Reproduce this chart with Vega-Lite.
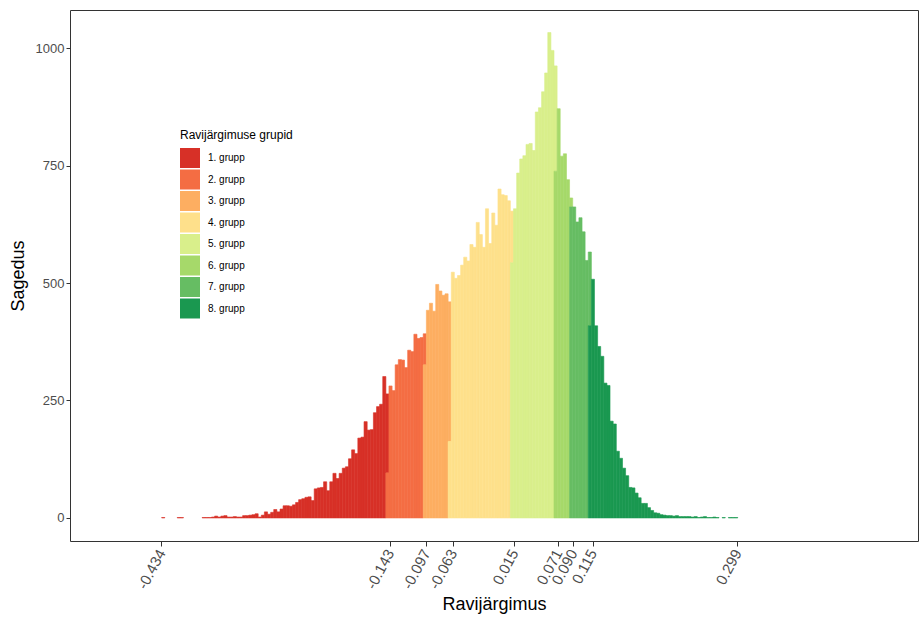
{
  "$schema": "https://vega.github.io/schema/vega-lite/v6.json",
  "width": 848,
  "height": 531,
  "autosize": {"type": "none"},
  "padding": {"left": 70, "top": 10, "right": 1, "bottom": 76},
  "background": "white",
  "config": {
    "font": "Liberation Sans",
    "view": {"stroke": "#333333", "strokeWidth": 1},
    "axis": {"grid": false, "domain": false, "tickColor": "#333333", "tickSize": 4, "labelColor": "#4D4D4D", "labelFontSize": 13, "titleFontSize": 18, "titleFontWeight": "normal", "titleColor": "#000000"},
    "legend": {"orient": "none", "legendX": 110, "legendY": 120, "symbolType": "square", "symbolSize": 400, "symbolStrokeWidth": 0, "symbolOpacity": 1, "labelFontSize": 10, "labelColor": "#000000", "titleFontSize": 12, "titleFontWeight": "normal", "titleColor": "#000000", "titlePadding": 6, "rowPadding": 1.5, "labelOffset": 8, "padding": 0}
  },
  "data": {"values": [
    {"lo":-0.434,"hi":-0.43,"n":1,"g":"1. grupp"},
    {"lo":-0.4142,"hi":-0.4102,"n":1,"g":"1. grupp"},
    {"lo":-0.4102,"hi":-0.4063,"n":1,"g":"1. grupp"},
    {"lo":-0.3825,"hi":-0.3785,"n":1,"g":"1. grupp"},
    {"lo":-0.3785,"hi":-0.3746,"n":1,"g":"1. grupp"},
    {"lo":-0.3746,"hi":-0.3706,"n":1,"g":"1. grupp"},
    {"lo":-0.3706,"hi":-0.3666,"n":2,"g":"1. grupp"},
    {"lo":-0.3666,"hi":-0.3627,"n":4,"g":"1. grupp"},
    {"lo":-0.3627,"hi":-0.3587,"n":2,"g":"1. grupp"},
    {"lo":-0.3587,"hi":-0.3548,"n":4,"g":"1. grupp"},
    {"lo":-0.3548,"hi":-0.3508,"n":5,"g":"1. grupp"},
    {"lo":-0.3508,"hi":-0.3468,"n":2,"g":"1. grupp"},
    {"lo":-0.3468,"hi":-0.3429,"n":2,"g":"1. grupp"},
    {"lo":-0.3429,"hi":-0.3389,"n":3,"g":"1. grupp"},
    {"lo":-0.3389,"hi":-0.335,"n":2,"g":"1. grupp"},
    {"lo":-0.335,"hi":-0.331,"n":2,"g":"1. grupp"},
    {"lo":-0.331,"hi":-0.327,"n":5,"g":"1. grupp"},
    {"lo":-0.327,"hi":-0.3231,"n":5,"g":"1. grupp"},
    {"lo":-0.3231,"hi":-0.3191,"n":6,"g":"1. grupp"},
    {"lo":-0.3191,"hi":-0.3151,"n":7,"g":"1. grupp"},
    {"lo":-0.3151,"hi":-0.3112,"n":9,"g":"1. grupp"},
    {"lo":-0.3112,"hi":-0.3072,"n":2,"g":"1. grupp"},
    {"lo":-0.3072,"hi":-0.3033,"n":6,"g":"1. grupp"},
    {"lo":-0.3033,"hi":-0.2993,"n":13,"g":"1. grupp"},
    {"lo":-0.2993,"hi":-0.2953,"n":8,"g":"1. grupp"},
    {"lo":-0.2953,"hi":-0.2914,"n":12,"g":"1. grupp"},
    {"lo":-0.2914,"hi":-0.2874,"n":18,"g":"1. grupp"},
    {"lo":-0.2874,"hi":-0.2834,"n":13,"g":"1. grupp"},
    {"lo":-0.2834,"hi":-0.2795,"n":19,"g":"1. grupp"},
    {"lo":-0.2795,"hi":-0.2755,"n":26,"g":"1. grupp"},
    {"lo":-0.2755,"hi":-0.2716,"n":26,"g":"1. grupp"},
    {"lo":-0.2716,"hi":-0.2676,"n":25,"g":"1. grupp"},
    {"lo":-0.2676,"hi":-0.2636,"n":28,"g":"1. grupp"},
    {"lo":-0.2636,"hi":-0.2597,"n":33,"g":"1. grupp"},
    {"lo":-0.2597,"hi":-0.2557,"n":39,"g":"1. grupp"},
    {"lo":-0.2557,"hi":-0.2517,"n":41,"g":"1. grupp"},
    {"lo":-0.2517,"hi":-0.2478,"n":44,"g":"1. grupp"},
    {"lo":-0.2478,"hi":-0.2438,"n":45,"g":"1. grupp"},
    {"lo":-0.2438,"hi":-0.2399,"n":37,"g":"1. grupp"},
    {"lo":-0.2399,"hi":-0.2359,"n":62,"g":"1. grupp"},
    {"lo":-0.2359,"hi":-0.2319,"n":64,"g":"1. grupp"},
    {"lo":-0.2319,"hi":-0.228,"n":65,"g":"1. grupp"},
    {"lo":-0.228,"hi":-0.224,"n":77,"g":"1. grupp"},
    {"lo":-0.224,"hi":-0.2201,"n":58,"g":"1. grupp"},
    {"lo":-0.2201,"hi":-0.2161,"n":77,"g":"1. grupp"},
    {"lo":-0.2161,"hi":-0.2121,"n":95,"g":"1. grupp"},
    {"lo":-0.2121,"hi":-0.2082,"n":84,"g":"1. grupp"},
    {"lo":-0.2082,"hi":-0.2042,"n":95,"g":"1. grupp"},
    {"lo":-0.2042,"hi":-0.2002,"n":106,"g":"1. grupp"},
    {"lo":-0.2002,"hi":-0.1963,"n":109,"g":"1. grupp"},
    {"lo":-0.1963,"hi":-0.1923,"n":126,"g":"1. grupp"},
    {"lo":-0.1923,"hi":-0.1884,"n":145,"g":"1. grupp"},
    {"lo":-0.1884,"hi":-0.1844,"n":137,"g":"1. grupp"},
    {"lo":-0.1844,"hi":-0.1804,"n":170,"g":"1. grupp"},
    {"lo":-0.1804,"hi":-0.1765,"n":172,"g":"1. grupp"},
    {"lo":-0.1765,"hi":-0.1725,"n":205,"g":"1. grupp"},
    {"lo":-0.1725,"hi":-0.1685,"n":187,"g":"1. grupp"},
    {"lo":-0.1685,"hi":-0.1646,"n":188,"g":"1. grupp"},
    {"lo":-0.1646,"hi":-0.1606,"n":224,"g":"1. grupp"},
    {"lo":-0.1606,"hi":-0.1567,"n":237,"g":"1. grupp"},
    {"lo":-0.1567,"hi":-0.1527,"n":242,"g":"1. grupp"},
    {"lo":-0.1527,"hi":-0.1487,"n":301,"g":"1. grupp"},
    {"lo":-0.1487,"hi":-0.1448,"n":168,"g":"1. grupp"},
    {"lo":-0.1487,"hi":-0.1448,"n":96,"g":"2. grupp"},
    {"lo":-0.1448,"hi":-0.1408,"n":281,"g":"2. grupp"},
    {"lo":-0.1408,"hi":-0.1369,"n":271,"g":"2. grupp"},
    {"lo":-0.1369,"hi":-0.1329,"n":326,"g":"2. grupp"},
    {"lo":-0.1329,"hi":-0.1289,"n":337,"g":"2. grupp"},
    {"lo":-0.1289,"hi":-0.125,"n":336,"g":"2. grupp"},
    {"lo":-0.125,"hi":-0.121,"n":320,"g":"2. grupp"},
    {"lo":-0.121,"hi":-0.117,"n":357,"g":"2. grupp"},
    {"lo":-0.117,"hi":-0.1131,"n":354,"g":"2. grupp"},
    {"lo":-0.1131,"hi":-0.1091,"n":391,"g":"2. grupp"},
    {"lo":-0.1091,"hi":-0.1052,"n":382,"g":"2. grupp"},
    {"lo":-0.1052,"hi":-0.1012,"n":384,"g":"2. grupp"},
    {"lo":-0.1012,"hi":-0.0972,"n":66,"g":"2. grupp"},
    {"lo":-0.1012,"hi":-0.0972,"n":326,"g":"3. grupp"},
    {"lo":-0.0972,"hi":-0.0933,"n":442,"g":"3. grupp"},
    {"lo":-0.0933,"hi":-0.0893,"n":457,"g":"3. grupp"},
    {"lo":-0.0893,"hi":-0.0853,"n":440,"g":"3. grupp"},
    {"lo":-0.0853,"hi":-0.0814,"n":497,"g":"3. grupp"},
    {"lo":-0.0814,"hi":-0.0774,"n":483,"g":"3. grupp"},
    {"lo":-0.0774,"hi":-0.0735,"n":474,"g":"3. grupp"},
    {"lo":-0.0735,"hi":-0.0695,"n":477,"g":"3. grupp"},
    {"lo":-0.0695,"hi":-0.0655,"n":297,"g":"3. grupp"},
    {"lo":-0.0695,"hi":-0.0655,"n":163,"g":"4. grupp"},
    {"lo":-0.0655,"hi":-0.0616,"n":523,"g":"4. grupp"},
    {"lo":-0.0616,"hi":-0.0576,"n":510,"g":"4. grupp"},
    {"lo":-0.0576,"hi":-0.0536,"n":516,"g":"4. grupp"},
    {"lo":-0.0536,"hi":-0.0497,"n":538,"g":"4. grupp"},
    {"lo":-0.0497,"hi":-0.0457,"n":555,"g":"4. grupp"},
    {"lo":-0.0457,"hi":-0.0418,"n":547,"g":"4. grupp"},
    {"lo":-0.0418,"hi":-0.0378,"n":582,"g":"4. grupp"},
    {"lo":-0.0378,"hi":-0.0338,"n":576,"g":"4. grupp"},
    {"lo":-0.0338,"hi":-0.0299,"n":629,"g":"4. grupp"},
    {"lo":-0.0299,"hi":-0.0259,"n":603,"g":"4. grupp"},
    {"lo":-0.0259,"hi":-0.022,"n":576,"g":"4. grupp"},
    {"lo":-0.022,"hi":-0.018,"n":658,"g":"4. grupp"},
    {"lo":-0.018,"hi":-0.014,"n":584,"g":"4. grupp"},
    {"lo":-0.014,"hi":-0.0101,"n":649,"g":"4. grupp"},
    {"lo":-0.0101,"hi":-0.0061,"n":623,"g":"4. grupp"},
    {"lo":-0.0061,"hi":-0.0021,"n":700,"g":"4. grupp"},
    {"lo":-0.0021,"hi":0.0018,"n":688,"g":"4. grupp"},
    {"lo":0.0018,"hi":0.0058,"n":686,"g":"4. grupp"},
    {"lo":0.0058,"hi":0.0097,"n":675,"g":"4. grupp"},
    {"lo":0.0097,"hi":0.0137,"n":110,"g":"4. grupp"},
    {"lo":0.0097,"hi":0.0137,"n":543,"g":"5. grupp"},
    {"lo":0.0137,"hi":0.0177,"n":658,"g":"5. grupp"},
    {"lo":0.0177,"hi":0.0216,"n":734,"g":"5. grupp"},
    {"lo":0.0216,"hi":0.0256,"n":764,"g":"5. grupp"},
    {"lo":0.0256,"hi":0.0296,"n":771,"g":"5. grupp"},
    {"lo":0.0296,"hi":0.0335,"n":795,"g":"5. grupp"},
    {"lo":0.0335,"hi":0.0375,"n":797,"g":"5. grupp"},
    {"lo":0.0375,"hi":0.0414,"n":782,"g":"5. grupp"},
    {"lo":0.0414,"hi":0.0454,"n":864,"g":"5. grupp"},
    {"lo":0.0454,"hi":0.0494,"n":873,"g":"5. grupp"},
    {"lo":0.0494,"hi":0.0533,"n":907,"g":"5. grupp"},
    {"lo":0.0533,"hi":0.0573,"n":947,"g":"5. grupp"},
    {"lo":0.0573,"hi":0.0613,"n":1033,"g":"5. grupp"},
    {"lo":0.0613,"hi":0.0652,"n":995,"g":"5. grupp"},
    {"lo":0.0652,"hi":0.0692,"n":224,"g":"5. grupp"},
    {"lo":0.0652,"hi":0.0692,"n":738,"g":"6. grupp"},
    {"lo":0.0692,"hi":0.0731,"n":871,"g":"6. grupp"},
    {"lo":0.0731,"hi":0.0771,"n":770,"g":"6. grupp"},
    {"lo":0.0771,"hi":0.0811,"n":775,"g":"6. grupp"},
    {"lo":0.0811,"hi":0.085,"n":720,"g":"6. grupp"},
    {"lo":0.085,"hi":0.089,"n":19,"g":"6. grupp"},
    {"lo":0.085,"hi":0.089,"n":662,"g":"7. grupp"},
    {"lo":0.089,"hi":0.0929,"n":662,"g":"7. grupp"},
    {"lo":0.0929,"hi":0.0969,"n":630,"g":"7. grupp"},
    {"lo":0.0969,"hi":0.1009,"n":639,"g":"7. grupp"},
    {"lo":0.1009,"hi":0.1048,"n":609,"g":"7. grupp"},
    {"lo":0.1048,"hi":0.1088,"n":548,"g":"7. grupp"},
    {"lo":0.1088,"hi":0.1128,"n":157,"g":"7. grupp"},
    {"lo":0.1088,"hi":0.1128,"n":409,"g":"8. grupp"},
    {"lo":0.1128,"hi":0.1167,"n":508,"g":"8. grupp"},
    {"lo":0.1167,"hi":0.1207,"n":409,"g":"8. grupp"},
    {"lo":0.1207,"hi":0.1246,"n":365,"g":"8. grupp"},
    {"lo":0.1246,"hi":0.1286,"n":344,"g":"8. grupp"},
    {"lo":0.1286,"hi":0.1326,"n":287,"g":"8. grupp"},
    {"lo":0.1326,"hi":0.1365,"n":282,"g":"8. grupp"},
    {"lo":0.1365,"hi":0.1405,"n":206,"g":"8. grupp"},
    {"lo":0.1405,"hi":0.1445,"n":200,"g":"8. grupp"},
    {"lo":0.1445,"hi":0.1484,"n":142,"g":"8. grupp"},
    {"lo":0.1484,"hi":0.1524,"n":127,"g":"8. grupp"},
    {"lo":0.1524,"hi":0.1563,"n":106,"g":"8. grupp"},
    {"lo":0.1563,"hi":0.1603,"n":90,"g":"8. grupp"},
    {"lo":0.1603,"hi":0.1643,"n":65,"g":"8. grupp"},
    {"lo":0.1643,"hi":0.1682,"n":64,"g":"8. grupp"},
    {"lo":0.1682,"hi":0.1722,"n":53,"g":"8. grupp"},
    {"lo":0.1722,"hi":0.1761,"n":43,"g":"8. grupp"},
    {"lo":0.1761,"hi":0.1801,"n":31,"g":"8. grupp"},
    {"lo":0.1801,"hi":0.1841,"n":31,"g":"8. grupp"},
    {"lo":0.1841,"hi":0.188,"n":22,"g":"8. grupp"},
    {"lo":0.188,"hi":0.192,"n":16,"g":"8. grupp"},
    {"lo":0.192,"hi":0.196,"n":11,"g":"8. grupp"},
    {"lo":0.196,"hi":0.1999,"n":10,"g":"8. grupp"},
    {"lo":0.1999,"hi":0.2039,"n":7,"g":"8. grupp"},
    {"lo":0.2039,"hi":0.2078,"n":6,"g":"8. grupp"},
    {"lo":0.2078,"hi":0.2118,"n":5,"g":"8. grupp"},
    {"lo":0.2118,"hi":0.2158,"n":5,"g":"8. grupp"},
    {"lo":0.2158,"hi":0.2197,"n":4,"g":"8. grupp"},
    {"lo":0.2197,"hi":0.2237,"n":5,"g":"8. grupp"},
    {"lo":0.2237,"hi":0.2277,"n":3,"g":"8. grupp"},
    {"lo":0.2277,"hi":0.2316,"n":3,"g":"8. grupp"},
    {"lo":0.2316,"hi":0.2356,"n":3,"g":"8. grupp"},
    {"lo":0.2356,"hi":0.2395,"n":3,"g":"8. grupp"},
    {"lo":0.2395,"hi":0.2435,"n":2,"g":"8. grupp"},
    {"lo":0.2435,"hi":0.2475,"n":3,"g":"8. grupp"},
    {"lo":0.2475,"hi":0.2514,"n":1,"g":"8. grupp"},
    {"lo":0.2514,"hi":0.2554,"n":2,"g":"8. grupp"},
    {"lo":0.2554,"hi":0.2593,"n":3,"g":"8. grupp"},
    {"lo":0.2593,"hi":0.2633,"n":1,"g":"8. grupp"},
    {"lo":0.2633,"hi":0.2673,"n":1,"g":"8. grupp"},
    {"lo":0.2673,"hi":0.2712,"n":2,"g":"8. grupp"},
    {"lo":0.2712,"hi":0.2752,"n":1,"g":"8. grupp"},
    {"lo":0.2792,"hi":0.2831,"n":1,"g":"8. grupp"},
    {"lo":0.2871,"hi":0.291,"n":1,"g":"8. grupp"},
    {"lo":0.291,"hi":0.295,"n":1,"g":"8. grupp"},
    {"lo":0.295,"hi":0.299,"n":1,"g":"8. grupp"}
  ]},
  "mark": {"type": "bar", "orient": "vertical", "binSpacing": 0, "strokeWidth": 0.6},
  "encoding": {
    "x": {"field": "lo", "type": "quantitative", "bin": "binned",
      "scale": {"domain": [-0.55, 0.529], "nice": false, "zero": false},
      "axis": {"values": [-0.434, -0.143, -0.097, -0.063, 0.015, 0.071, 0.09, 0.115, 0.299],
        "labelOverlap": false, "labelFontSize": 15, "tickSize": 5,
        "labelAngle": -62, "labelAlign": "right", "labelBaseline": "middle", "labelPadding": 4,
        "labelExpr": "replace(format(datum.value, '.3f'), '\u2212', '-')",
        "title": "Ravijärgimus", "titlePadding": 4}},
    "x2": {"field": "hi"},
    "y": {"field": "n", "type": "quantitative", "stack": "zero",
      "scale": {"domain": [-49, 1081], "nice": false, "zero": false},
      "axis": {"values": [0, 250, 500, 750, 1000], "format": "d", "title": "Sagedus", "labelPadding": 2, "titlePadding": 8}},
    "color": {"field": "g", "type": "nominal",
      "scale": {"domain": ["1. grupp", "2. grupp", "3. grupp", "4. grupp", "5. grupp", "6. grupp", "7. grupp", "8. grupp"],
        "range": ["#D73027", "#F46D43", "#FDAE61", "#FEE08B", "#D9EF8B", "#A6D96A", "#66BD63", "#1A9850"]},
      "legend": {"title": "Ravijärgimuse grupid"}},
    "stroke": {"field": "g", "type": "nominal",
      "scale": {"domain": ["1. grupp", "2. grupp", "3. grupp", "4. grupp", "5. grupp", "6. grupp", "7. grupp", "8. grupp"],
        "range": ["#D73027", "#F46D43", "#FDAE61", "#FEE08B", "#D9EF8B", "#A6D96A", "#66BD63", "#1A9850"]},
      "legend": null},
    "order": {"field": "g", "type": "ordinal", "sort": "descending"}
  }
}
